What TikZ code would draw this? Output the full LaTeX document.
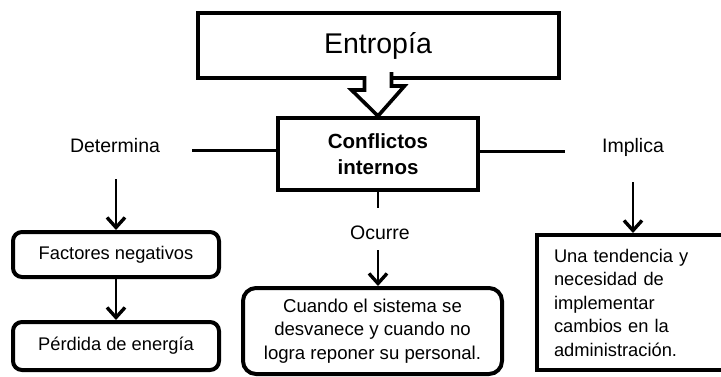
\documentclass[tikz,border=0pt]{standalone}
\usepackage{fontspec}
\setmainfont{Liberation Sans}
\usetikzlibrary{arrows.meta,positioning}

\begin{document}
\begin{tikzpicture}[x=1pt, y=-1pt,
		texto/.style={font=\fontsize{18.3}{23.5}\selectfont, inner sep=0pt},
		etiqueta/.style={texto, font=\fontsize{19.5}{23.5}\selectfont},
		caja/.style={draw, line width=4pt, texto, align=center},
		redonda/.style={caja, rounded corners=9pt},
		linea/.style={line width=2.7pt},
		flecha/.style={linea, -{Straight Barb[length=10pt, width=18pt, line width=3.4pt]}}]
		\clip (0,0) rectangle (721,376);

		\node[caja, minimum width=361, minimum height=65, font=\fontsize{28.5}{34}\selectfont] (ent) at (378,45.5) {Entropía};
		\node[caja, minimum width=200, minimum height=72, font=\bfseries\fontsize{20.5}{26}\selectfont] (conf) at (378,154) {Conflictos\\internos};

		% flecha de bloque
		\draw[line width=3.6pt, fill=white] (ent.south) ++(-13.5,-4) -- ++(0,14) -- ++(-13,0) -- (conf.north) -- ++(26.5,-30) -- ++(-13,0) -- ++(0,-14);

		\node[etiqueta] (det) at (115,146) {Determina};
		\node[etiqueta] (imp) at (633,147) {Implica};
		\node[etiqueta] (ocu) at (380,233) {Ocurre};

		\node[redonda, minimum width=206, minimum height=45] (fac) at (116,254.5) {Factores negativos};
		\node[redonda, minimum width=206, minimum height=48] (per) at (116,346) {Pérdida de energía};
		\node[redonda, rounded corners=13pt, minimum width=259, minimum height=86, font=\fontsize{18.6}{23.5}\selectfont] (cua) at (372.5,331) {Cuando el sistema se\\desvanece y cuando no\\logra reponer su personal.};
		\node[caja, anchor=north west, minimum height=135, text width=196, inner xsep=17pt, align=left] (ten) at (535,233) {Una tendencia y\\necesidad de\\implementar\\cambios en la\\administración.};

		\coordinate (detL) at (192,150.5);
		\coordinate (impR) at (565,151.5);
		\coordinate (detA) at (116,179);
		\coordinate (ocuL) at (378,208);
		\coordinate (ocuA) at (378,250);
		\coordinate (impA) at (633,182);

		\draw[linea] (detL) -- (detL -| conf.west);
		\draw[linea] (conf.east |- impR) -- (impR);
		\draw[linea] (conf.south) -- (ocuL);

		\draw[flecha] (detA) -- (fac.north);
		\draw[flecha] (fac) -- (per);
		\draw[flecha] (ocuA) -- (ocuA |- cua.north);
		\draw[flecha] (impA) -- (impA |- ten.north);
	\end{tikzpicture}
\end{document}
